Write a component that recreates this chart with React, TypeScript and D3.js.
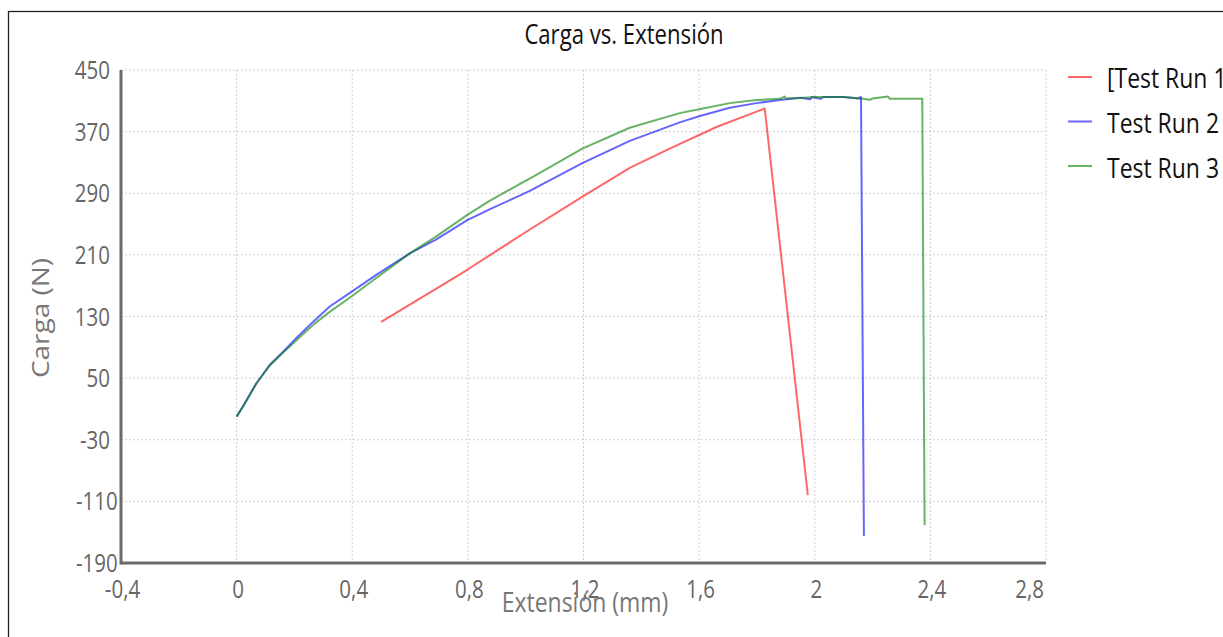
import React, { useEffect } from "react";
import * as d3 from "d3";

// values
const xTicks = [-0.4, 0, 0.4, 0.8, 1.2, 1.6, 2, 2.4, 2.8];
const xTickLabels = ["-0,4", "0", "0,4", "0,8", "1,2", "1,6", "2", "2,4", "2,8"];
const yTicks = [450, 370, 290, 210, 130, 50, -30, -110, -190];

const run1X = [0.5, 0.668, 0.795, 1.002, 1.198, 1.36, 1.498, 1.66, 1.827, 1.976];
const run1Y = [123, 161, 190, 240, 286, 323, 348, 376, 400, -102];

const run2X = [0, 0.028, 0.068, 0.114, 0.16, 0.207, 0.264, 0.322, 0.397, 0.483, 0.599, 0.691, 0.798, 0.875, 0.979, 1.014, 1.196, 1.36, 1.533, 1.6, 1.706, 1.798, 1.879, 1.95, 1.985, 1.99, 2.02, 2.03, 2.1, 2.15, 2.16, 2.17];
const run2Y = [0, 17, 43, 67, 84, 102, 123, 143, 162, 184, 212, 230, 255, 269, 287, 293, 329, 358, 382, 390, 401, 407, 411, 414, 412, 415, 412.5, 415, 415, 413, 415, -155];

const run3X = [0, 0.028, 0.068, 0.114, 0.16, 0.207, 0.264, 0.322, 0.397, 0.483, 0.599, 0.691, 0.798, 0.875, 0.979, 1.014, 1.196, 1.36, 1.533, 1.6, 1.706, 1.798, 1.879, 1.896, 1.9, 1.95, 2.0, 2.1, 2.16, 2.19, 2.2, 2.253, 2.26, 2.372, 2.38];
const run3Y = [0, 17, 43, 66, 83, 99, 119, 136, 156, 180, 212, 234, 262, 280, 302, 309, 348, 375, 394, 399, 407, 411, 412.6, 415.5, 413, 413.5, 414.8, 414.8, 413, 411.3, 413, 415.6, 412.6, 412.6, -141];

const seriesNames = ["[Test Run 1", "Test Run 2", "Test Run 3"];
const seriesColors = ["#ff0000", "#0000ff", "#008000"];

const FONT = "'Open Sans', 'Noto Sans', sans-serif";
const SX = 0.82; // the picture is a bit stretched vertically

function SText(props: any) {
  const { x, y, size, anchor, fill, rotate, children } = props;
  return (
    <text
      transform={`translate(${x},${y}) scale(${SX},1)${rotate ? " rotate(-90)" : ""}`}
      fontSize={size}
      fontFamily={FONT}
      textAnchor={anchor || "start"}
      fill={fill}
    >
      {children}
    </text>
  );
}

const App = () => {
  useEffect(() => {
    document.body.style.margin = "0";
    document.body.style.overflow = "hidden";
  }, []);

  const W = 1223;
  const H = 637;
  const x = d3.scaleLinear().domain([-0.4, 2.8]).range([121, 1046]);
  const y = d3.scaleLinear().domain([-190, 450]).range([563, 70]);

  const line = d3
    .line<[number, number]>()
    .x((d) => x(d[0]))
    .y((d) => y(d[1]));

  const series = [
    run1X.map((v, i) => [v, run1Y[i]] as [number, number]),
    run2X.map((v, i) => [v, run2Y[i]] as [number, number]),
    run3X.map((v, i) => [v, run3Y[i]] as [number, number]),
  ];

  const [x0, x1] = x.range();
  const [yBottom, yTop] = y.range();

  return (
    <svg width={W} height={H} style={{ position: "fixed", left: 0, top: 0, background: "#fff" }}>
      {/* frame */}
      <rect x={8.5} y={11.5} width={1400} height={800} fill="none" stroke="#222" strokeWidth={1.3} />

      {/* title */}
      <SText x={624} y={44} size={27} anchor="middle" fill="#111">
        Carga vs. Extensión
      </SText>

      {/* grid */}
      {yTicks.slice(0, -1).map((t) => (
        <line key={"gy" + t} x1={x0} x2={x1} y1={y(t)} y2={y(t)} stroke="#cfcfcf" strokeWidth={1} strokeDasharray="2,2" />
      ))}
      {xTicks.slice(1).map((t) => (
        <line key={"gx" + t} x1={x(t)} x2={x(t)} y1={yTop} y2={yBottom} stroke="#cfcfcf" strokeWidth={1} strokeDasharray="2,2" />
      ))}

      {/* series */}
      {series.map((s, i) => (
        <path key={"s" + i} d={line(s) || ""} fill="none" stroke={seriesColors[i]} strokeOpacity={0.6} strokeWidth={2} strokeLinejoin="round" />
      ))}

      {/* axes */}
      <line x1={x0} x2={x0} y1={yTop} y2={yBottom + 1.5} stroke="#6b6b6b" strokeWidth={3} />
      <line x1={x0} x2={x1} y1={yBottom} y2={yBottom} stroke="#6b6b6b" strokeWidth={3} />

      {/* y tick labels */}
      {yTicks.map((t) => {
        const long = String(t).length > 3;
        return (
          <SText key={"ly" + t} x={long ? 76 : 110} y={y(t) + 9} size={25} anchor={long ? "start" : "end"} fill="#666">
            {String(t)}
          </SText>
        );
      })}

      {/* x tick labels */}
      {xTicks.map((t, i) => {
        const last = i === xTicks.length - 1;
        return (
          <SText key={"lx" + t} x={last ? 1044 : x(t) + 1.5} y={598} size={25} anchor={last ? "end" : "middle"} fill="#666">
            {xTickLabels[i]}
          </SText>
        );
      })}

      {/* axis titles */}
      <SText x={585} y={612} size={28} anchor="middle" fill="#777">
        Extensión (mm)
      </SText>
      <SText x={49} y={318} size={28} anchor="middle" fill="#777" rotate>
        Carga (N)
      </SText>

      {/* legend */}
      {seriesNames.map((name, i) => (
        <g key={"lg" + i}>
          <line x1={1068} x2={1092} y1={77 + i * 44.5} y2={77 + i * 44.5} stroke={seriesColors[i]} strokeOpacity={0.6} strokeWidth={2} />
          <SText x={1107} y={88 + i * 45} size={28} fill="#111">
            {name}
          </SText>
        </g>
      ))}
    </svg>
  );
};

export default App;
